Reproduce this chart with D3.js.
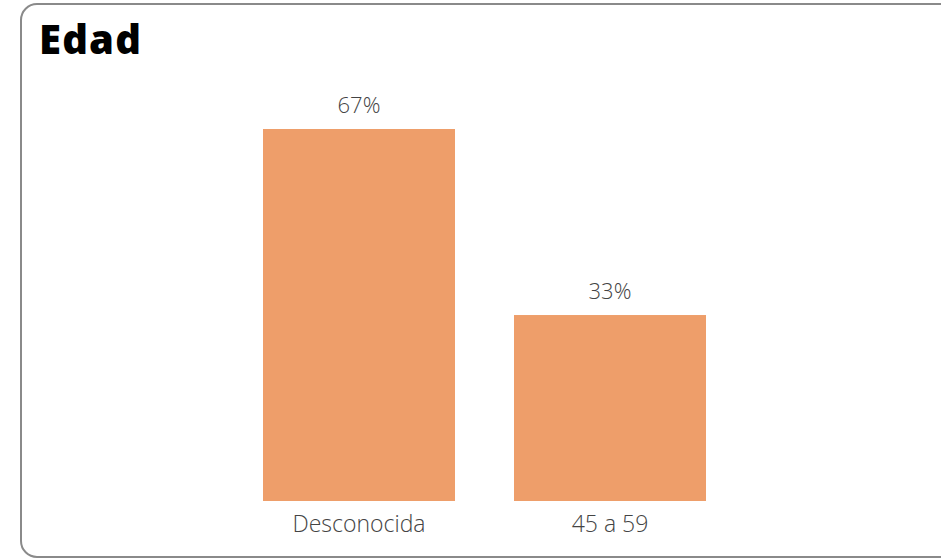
<!DOCTYPE html>
<html><head><meta charset="utf-8">
<script src="https://cdn.jsdelivr.net/npm/d3@7"></script>
<style>body{margin:0;background:#fff;}svg{display:block;}</style>
</head><body>
<svg id="c" width="941" height="559"></svg>
<script>
const title = "Edad";
const categories = ["Desconocida", "45 a 59"];
const values = [66.67, 33.33];
const valueLabels = ["67%", "33%"];

const svg = d3.select("#c");

svg.append("rect").attr("x", 21).attr("y", 4).attr("width", 960).attr("height", 553)
  .attr("rx", 16).attr("fill", "#fff").attr("stroke", "#8a8a8a").attr("stroke-width", 2);

svg.append("text").attr("x", 39).attr("y", 54).text(title)
  .attr("font-family", "'Open Sans', sans-serif").attr("font-weight", 800)
  .attr("font-size", 40).attr("letter-spacing", 1.2).attr("fill", "#000");

const x = d3.scaleBand().domain(categories).range([263, 706])
  .paddingInner(59/251).paddingOuter(0);
const y = d3.scaleLinear().domain([0, d3.max(values)]).range([501, 129]);

const g = svg.append("g");
g.selectAll("rect.bar").data(categories).join("rect").attr("class", "bar")
  .attr("x", d => x(d)).attr("width", x.bandwidth())
  .attr("y", (d, i) => y(values[i])).attr("height", (d, i) => y(0) - y(values[i]))
  .attr("fill", "#EE9E6A");

g.selectAll("text.val").data(categories).join("text").attr("class", "val")
  .attr("x", d => x(d) + x.bandwidth() / 2).attr("y", (d, i) => y(values[i]) - 16)
  .attr("text-anchor", "middle").text((d, i) => valueLabels[i])
  .attr("font-family", "'Open Sans', sans-serif").attr("font-weight", 300)
  .attr("font-size", 22).attr("fill", "#444");

const axis = d3.axisBottom(x).tickSize(0).tickPadding(15);
const ag = svg.append("g").attr("transform", "translate(0,501)").call(axis);
ag.select(".domain").remove();
ag.selectAll("text").attr("font-family", "'Open Sans', sans-serif").attr("font-weight", 300)
  .attr("font-size", 23).attr("fill", "#444");
</script>
</body></html>
